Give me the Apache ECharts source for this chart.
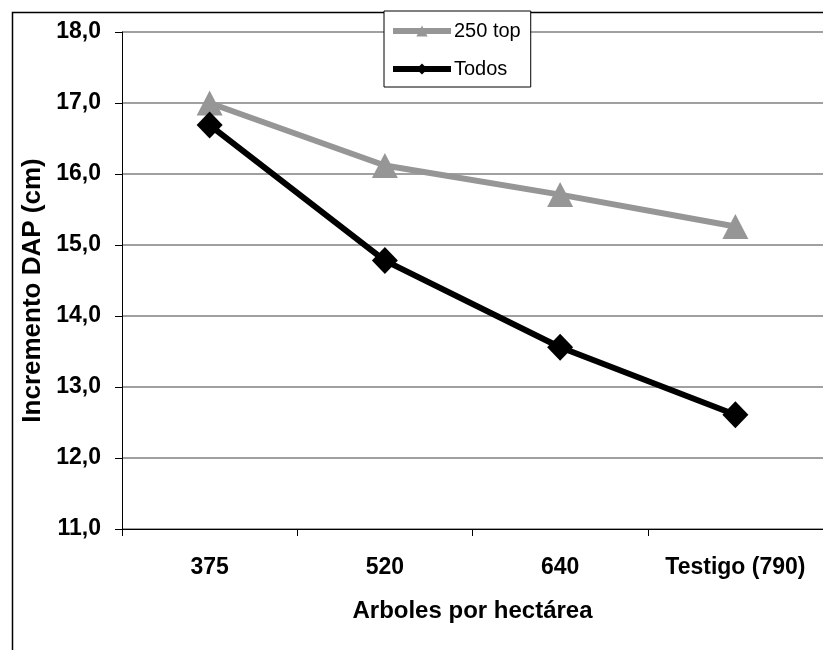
<!DOCTYPE html>
<html>
<head>
<meta charset="utf-8">
<script src="https://cdn.jsdelivr.net/npm/echarts@6/dist/echarts.min.js"></script>
<style>html,body{margin:0;padding:0;background:#fff}#c{width:823px;height:650px}</style>
</head>
<body>
<div id="c"></div>
<script>
var categories = ['375', '520', '640', 'Testigo (790)'];
var top250 = [17.0, 16.12, 15.71, 15.26];
var todos = [16.69, 14.78, 13.56, 12.61];
var seriesNames = ['250 top', 'Todos'];
var yMin = 11, yMax = 18, yStep = 1;

var chart = echarts.init(document.getElementById('c'), null, {renderer: 'canvas'});
var font = 'Liberation Sans, Arial, sans-serif';
chart.setOption({
  animation: false,
  backgroundColor: '#fff',
  graphic: [{
    type: 'rect', left: 10, top: 10, z: -10,
    shape: {width: 900, height: 800},
    style: {fill: 'none', stroke: '#000', lineWidth: 1.5}
  }],
  grid: {left: 122, top: 32, width: 704, height: 497, containLabel: false},
  legend: {
    orient: 'vertical', left: 384, top: 11,
    padding: [10, 10, 8, 6],
    itemWidth: 58, itemHeight: 14, itemGap: 18,
    backgroundColor: '#fff', borderColor: '#000', borderWidth: 1,
    lineStyle: {width: 6},
    textStyle: {fontFamily: font, fontSize: 20, color: '#000', padding: [0, 0, 0, -2]},
    data: seriesNames
  },
  xAxis: {
    type: 'category', data: categories, boundaryGap: true,
    name: 'Arboles por hectárea', nameLocation: 'middle', nameGap: 70,
    nameTextStyle: {fontFamily: font, fontSize: 24, fontWeight: 'bold', color: '#000'},
    axisLine: {show: true, lineStyle: {color: '#000', width: 1}},
    axisTick: {show: true, length: 7, interval: 0, lineStyle: {color: '#000'}},
    axisLabel: {interval: 0, fontFamily: font, fontSize: 23, fontWeight: 'bold', color: '#000', margin: 27}
  },
  yAxis: {
    type: 'value', min: yMin, max: yMax, interval: yStep,
    name: 'Incremento DAP (cm)', nameLocation: 'middle', nameGap: 76, nameRotate: 90,
    nameTextStyle: {fontFamily: font, fontSize: 26, fontWeight: 'bold', color: '#000', padding: [0, 20, 0, 0]},
    axisLine: {show: true, lineStyle: {color: '#000', width: 1}},
    axisTick: {show: true, length: 7, lineStyle: {color: '#000'}},
    axisLabel: {fontFamily: font, fontSize: 23, fontWeight: 'bold', color: '#000', margin: 21,
      formatter: function (v) { return v.toFixed(1).replace('.', ','); }},
    splitLine: {show: true, lineStyle: {color: '#808080', width: 1.5}}
  },
  series: [{
    name: seriesNames[0], type: 'line', data: top250,
    symbol: 'triangle', symbolSize: [26, 25],
    lineStyle: {color: '#969696', width: 6},
    itemStyle: {color: '#969696'}, z: 2
  }, {
    name: seriesNames[1], type: 'line', data: todos,
    symbol: 'diamond', symbolSize: [26, 27],
    lineStyle: {color: '#000', width: 6},
    itemStyle: {color: '#000'}, z: 3
  }]
});
</script>
</body>
</html>
